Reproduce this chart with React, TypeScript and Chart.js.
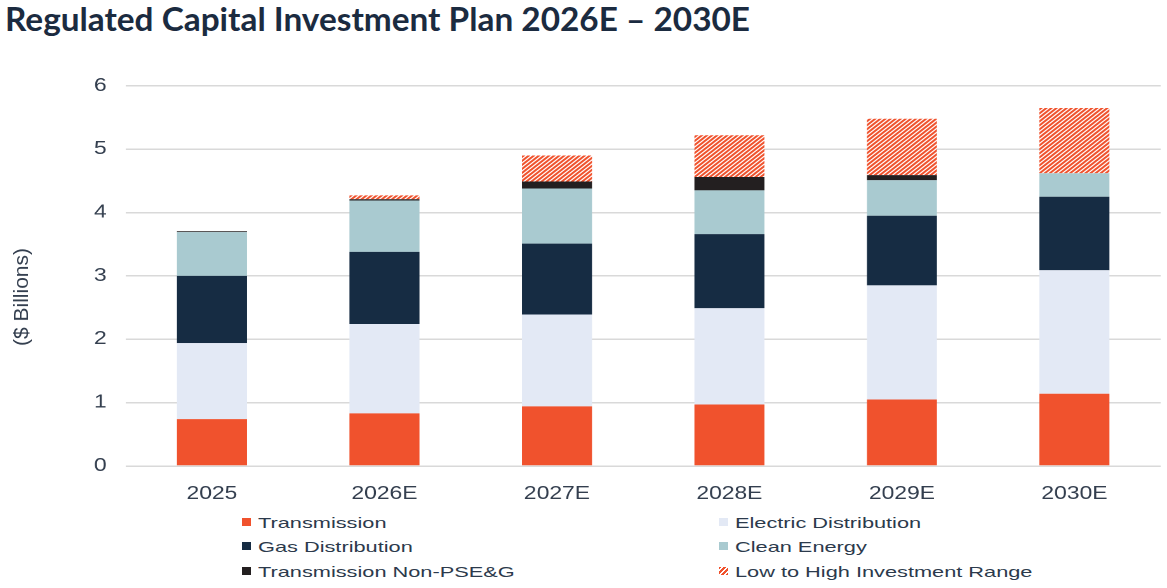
import React, { useEffect, useLayoutEffect, useRef } from "react";
import { Chart, registerables } from "chart.js";

Chart.register(...registerables);

// ---------- data ----------
const categories = ["2025", "2026E", "2027E", "2028E", "2029E", "2030E"];
const transmission = [0.74, 0.83, 0.94, 0.97, 1.05, 1.14];
const electricDistribution = [1.2, 1.41, 1.45, 1.52, 1.8, 1.95];
const gasDistribution = [1.06, 1.14, 1.12, 1.17, 1.1, 1.16];
const cleanEnergy = [0.69, 0.81, 0.87, 0.69, 0.56, 0.37];
const transmissionNonPSEG = [0.015, 0.02, 0.11, 0.21, 0.08, 0];
const investmentRange = [0, 0.06, 0.41, 0.66, 0.89, 1.03];
const yTickValues = [0, 1, 2, 3, 4, 5, 6];

const seriesLabels = [
  "Transmission",
  "Electric Distribution",
  "Gas Distribution",
  "Clean Energy",
  "Transmission Non-PSE&G",
  "Low to High Investment Range",
];

// ---------- styles ----------
const ORANGE = "#F0522D";
const COLORS = [ORANGE, "#E3E9F5", "#162C43", "#A9CAD0", "#231F20", "hatch"];
const TEXT = "#333E4E";
const STRETCH = 1167 / 919;

function makeHatch(): CanvasPattern | string {
  const c = document.createElement("canvas");
  c.width = 8;
  c.height = 8;
  const g = c.getContext("2d");
  if (!g) return ORANGE;
  g.fillStyle = "#ffffff";
  g.fillRect(0, 0, 8, 8);
  g.strokeStyle = ORANGE;
  g.lineWidth = 3.6;
  g.beginPath();
  g.moveTo(-2, 10);
  g.lineTo(10, -2);
  g.moveTo(-6, 6);
  g.lineTo(6, -6);
  g.moveTo(2, 14);
  g.lineTo(14, 2);
  g.stroke();
  const p = g.createPattern(c, "repeat");
  if (p && (p as any).setTransform && typeof DOMMatrix !== "undefined") {
    (p as any).setTransform(new DOMMatrix().scale(0.5, 0.5));
  }
  return p || ORANGE;
}

function FitTitle({ text, width }: { text: string; width: number }) {
  const ref = useRef<HTMLDivElement>(null);
  useLayoutEffect(() => {
    const el = ref.current;
    if (!el) return;
    el.style.transform = "none";
    const w = el.getBoundingClientRect().width;
    if (w > 0) el.style.transform = `scaleX(${width / w})`;
  }, [text, width]);
  return (
    <div
      ref={ref}
      style={{
        position: "absolute",
        left: 5,
        top: -1,
        whiteSpace: "nowrap",
        fontFamily: "Lato, 'Open Sans', sans-serif",
        fontWeight: 700,
        fontSize: 32,
        color: "#1B2B40",
        transformOrigin: "0 0",
        display: "inline-block",
      }}
    >
      {text}
    </div>
  );
}

function LegendItem({ label, color, left, top }: { label: string; color: string; left: number; top: number }) {
  const markerStyle: React.CSSProperties =
    color === "hatch"
      ? {
          background: `repeating-linear-gradient(-45deg, ${ORANGE} 0 2px, #ffffff 2px 3.5px)`,
        }
      : { background: color };
  return (
    <div style={{ position: "absolute", left, top, height: 17 }}>
      <div
        style={{
          position: "absolute",
          left: 0,
          top: 3,
          width: 9,
          height: 8,
          ...markerStyle,
        }}
      />
      <div
        style={{
          position: "absolute",
          left: 16,
          top: 0,
          whiteSpace: "nowrap",
          fontFamily: "'Liberation Sans', Arial, sans-serif",
          fontSize: 14.5,
          color: "#2C3A4C",
          transform: "scaleX(1.5)",
          transformOrigin: "0 0",
        }}
      >
        {label}
      </div>
    </div>
  );
}

export default function App() {
  const canvasRef = useRef<HTMLCanvasElement>(null);

  useEffect(() => {
    const canvas = canvasRef.current;
    if (!canvas) return;
    const hatch = makeHatch();
    const values = [
      transmission,
      electricDistribution,
      gasDistribution,
      cleanEnergy,
      transmissionNonPSEG,
      investmentRange,
    ];
    const chart = new Chart(canvas, {
      type: "bar",
      data: {
        labels: categories,
        datasets: values.map((d, i) => ({
          label: seriesLabels[i],
          data: d,
          backgroundColor: COLORS[i] === "hatch" ? (hatch as any) : COLORS[i],
          borderWidth: 0,
          barPercentage: 0.406,
          categoryPercentage: 1,
        })),
      },
      options: {
        responsive: false,
        animation: false,
        devicePixelRatio: 2,
        layout: { padding: { top: 23, right: 5, left: 0, bottom: 0 } },
        plugins: {
          legend: { display: false },
          tooltip: { enabled: false },
          title: { display: false },
        },
        scales: {
          x: {
            stacked: true,
            grid: { display: false },
            border: { display: false },
            ticks: {
              color: TEXT,
              font: { family: "'Liberation Sans', Arial, sans-serif", size: 18 },
              padding: 9,
            },
            afterFit: (s: any) => {
              s.height = 44;
            },
          },
          y: {
            stacked: true,
            min: yTickValues[0],
            max: yTickValues[yTickValues.length - 1],
            afterBuildTicks: (s: any) => {
              s.ticks = yTickValues.map((v) => ({ value: v }));
            },
            grid: { color: "#D9D9D9", lineWidth: 1.5, drawTicks: false },
            border: { display: false },
            ticks: {
              color: TEXT,
              font: { family: "'Liberation Sans', Arial, sans-serif", size: 18 },
              padding: 15,
            },
            afterFit: (s: any) => {
              s.width = 99;
            },
          },
        },
      },
    });
    return () => chart.destroy();
  }, []);

  return (
    <div
      style={{
        position: "absolute",
        left: 0,
        top: 0,
        width: 1167,
        height: 588,
        background: "#ffffff",
        overflow: "hidden",
      }}
    >
      <FitTitle text="Regulated Capital Investment Plan 2026E – 2030E" width={745} />
      <div
        style={{
          position: "absolute",
          left: 0,
          top: 60,
          width: 919,
          height: 450,
          transform: `scaleX(${STRETCH})`,
          transformOrigin: "0 0",
        }}
      >
        <canvas ref={canvasRef} width={919} height={450} style={{ width: 919, height: 450, display: "block" }} />
      </div>
      <div
        style={{
          position: "absolute",
          left: 21,
          top: 297,
          transform: "translate(-50%, -50%) rotate(-90deg)",
          whiteSpace: "nowrap",
          fontFamily: "'Liberation Sans', Arial, sans-serif",
          fontSize: 21,
          color: TEXT,
        }}
      >
        ($ Billions)
      </div>
      <LegendItem label={seriesLabels[0]} color={COLORS[0]} left={242} top={514.6} />
      <LegendItem label={seriesLabels[1]} color={COLORS[1]} left={719} top={514.6} />
      <LegendItem label={seriesLabels[2]} color={COLORS[2]} left={242} top={538.6} />
      <LegendItem label={seriesLabels[3]} color={COLORS[3]} left={719} top={538.6} />
      <LegendItem label={seriesLabels[4]} color={COLORS[4]} left={242} top={563.6} />
      <LegendItem label={seriesLabels[5]} color={COLORS[5]} left={719} top={563.6} />
    </div>
  );
}
